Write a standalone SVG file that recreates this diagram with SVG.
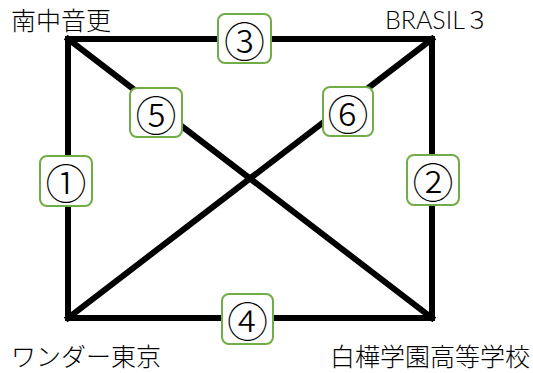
<svg xmlns="http://www.w3.org/2000/svg" width="533" height="373" viewBox="0 0 533 373">
<style>
.edge{stroke:#000;stroke-width:6;fill:none;stroke-linecap:square;stroke-linejoin:miter}
.box{fill:#fff;stroke:#70AD47;stroke-width:2}
.num{font-family:"Noto Sans CJK JP","DejaVu Sans",sans-serif;font-size:41px;font-weight:300;text-anchor:middle;dominant-baseline:central;fill:#000}
.lbl{font-family:"Noto Sans CJK JP","Noto Sans",sans-serif;font-size:25px;font-weight:300;fill:#000}
.lat{font-family:Lato,"Liberation Sans","Noto Sans CJK JP",sans-serif;font-size:25px;font-weight:300;fill:#000}
</style>
<rect width="533" height="373" fill="#fff"/>
<g id="connectors">
<rect class="edge" x="68" y="39" width="364" height="279"/>
<line class="edge" x1="68" y1="39" x2="432" y2="318"/>
<line class="edge" x1="432" y1="39" x2="68" y2="318"/>
</g>
<g id="node-nanchu"><text class="lbl" x="11" y="30">南中音更</text></g>
<g id="node-brasil"><text class="lat" x="385" y="29">BRASIL<tspan font-family="Noto Sans CJK JP, sans-serif" font-size="24">３</tspan></text></g>
<g id="node-wonder"><text class="lbl" x="11" y="366">ワンダー東京</text></g>
<g id="node-shirakaba"><text class="lbl" x="530" y="366" text-anchor="end">白樺学園高等学校</text></g>
<g id="label-1"><rect class="box" x="40" y="156" width="52" height="50" rx="7"/><text class="num" x="66" y="181">①</text></g>
<g id="label-2"><rect class="box" x="407" y="155" width="52" height="50" rx="7"/><text class="num" x="433" y="180">②</text></g>
<g id="label-3"><rect class="box" x="218" y="14" width="53" height="49" rx="7"/><text class="num" x="244.5" y="38.5">③</text></g>
<g id="label-4"><rect class="box" x="222" y="294" width="51" height="50" rx="7"/><text class="num" x="247.5" y="319">④</text></g>
<g id="label-5"><rect class="box" x="130" y="88" width="52" height="49" rx="7"/><text class="num" x="156" y="112.5">⑤</text></g>
<g id="label-6"><rect class="box" x="323" y="87" width="50" height="49" rx="7"/><text class="num" x="348" y="111.5">⑥</text></g>
</svg>
